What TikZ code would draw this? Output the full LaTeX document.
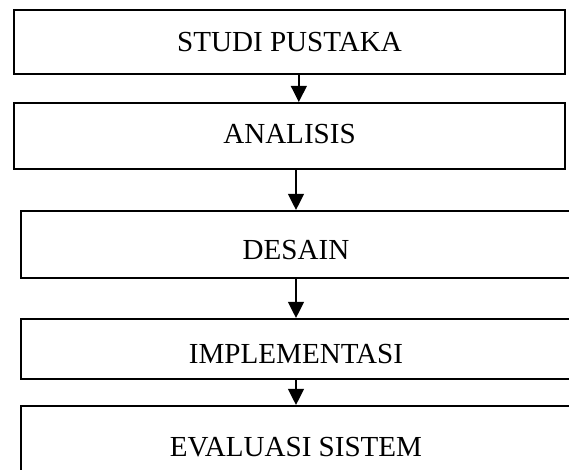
\documentclass[tikz,border=0pt]{standalone}
\usepackage{fontspec}
\setmainfont{Liberation Serif}
\usetikzlibrary{arrows.meta}

\tikzset{
  stage/.style={draw, line width=1.5pt, anchor=base, inner xsep=0pt, inner ysep=0pt,
    font=\fontsize{21.8}{26}\selectfont},
  flow/.style={line width=1.5pt, -{Triangle[width=11.75pt,length=12pt]}}
}

\begin{document}
\begin{tikzpicture}[x=0.75pt,y=0.75pt,yscale=-1,xscale=1]
\useasboundingbox (0,0) rectangle (569,470);
\clip (0,0) rectangle (569,470);

%Shape: Rectangle [studi]
\node [stage, minimum width=413.25pt, text height=31.5pt, text depth=16.5pt] (studi) at (289.5,52) {STUDI PUSTAKA};
%Shape: Rectangle [analisis]
\node [stage, minimum width=413.25pt, text height=30.75pt, text depth=18.75pt] (analisis) at (289.5,144) {ANALISIS};
%Shape: Rectangle [desain]
\node [stage, minimum width=412.5pt, text height=36.75pt, text depth=13.5pt] (desain) at (296,260) {DESAIN};
%Shape: Rectangle [implementasi]
\node [stage, minimum width=412.5pt, text height=33.75pt, text depth=11.25pt] (implementasi) at (296,364) {IMPLEMENTASI};
%Shape: Rectangle [evaluasi]
\node [stage, minimum width=412.5pt, text height=38.25pt, text depth=40pt] (evaluasi) at (296,457) {EVALUASI SISTEM};

%Straight Lines [arrows]
\draw [flow] ([xshift=7pt]studi.south) -- ([xshift=7pt]analisis.north);
\draw [flow] (analisis.south -| desain.north) -- (desain.north);
\draw [flow] (desain.south) -- (implementasi.north);
\draw [flow] (implementasi.south) -- (evaluasi.north);

\end{tikzpicture}
\end{document}
